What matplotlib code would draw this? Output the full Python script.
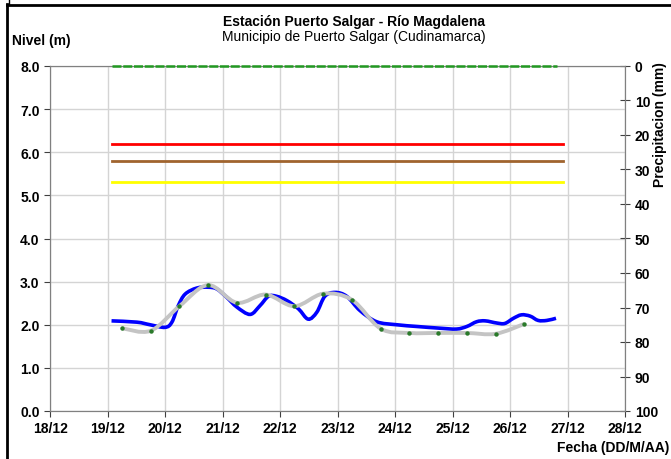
import numpy as np
import matplotlib
matplotlib.use("Agg")
import matplotlib.pyplot as plt
from matplotlib.path import Path
from matplotlib.patches import PathPatch
from matplotlib.lines import Line2D

plt.rcParams['font.family'] = ['Liberation Sans', 'DejaVu Sans']

# nivel observado (dia de diciembre, m)
nivel_dia = [19.07, 19.51, 19.74, 20.00, 20.12, 20.23, 20.35, 20.55, 20.75, 20.90,
             21.07, 21.25, 21.48, 21.65, 21.80, 21.94, 22.12, 22.32, 22.49, 22.64,
             22.78, 22.96, 23.16, 23.39, 23.68, 24.03, 24.38, 24.78, 25.07, 25.25,
             25.42, 25.57, 25.77, 25.91, 26.06, 26.20, 26.35, 26.49, 26.64, 26.80]
nivel_val = [2.09, 2.06, 2.00, 1.94, 2.06, 2.44, 2.71, 2.85, 2.87, 2.83,
             2.64, 2.41, 2.24, 2.44, 2.66, 2.66, 2.56, 2.37, 2.13, 2.29,
             2.66, 2.75, 2.66, 2.33, 2.07, 2.00, 1.96, 1.92, 1.90, 1.96,
             2.07, 2.09, 2.04, 2.03, 2.15, 2.23, 2.20, 2.10, 2.10, 2.15]

# lecturas de mira (6am / 6pm)
mira_dia = [19.25, 19.75, 20.25, 20.75, 21.25, 21.75, 22.25, 22.75,
            23.25, 23.75, 24.25, 24.75, 25.25, 25.75, 26.25]
mira_val = [1.92, 1.86, 2.43, 2.92, 2.51, 2.70, 2.43, 2.72,
            2.58, 1.91, 1.81, 1.81, 1.81, 1.79, 2.02]

# precipitacion
precip_dia = [19.08, 26.81]
precip_mm = [0, 0]

# umbrales
umbral_dia = [19.08, 26.93]
umbral_rojo = 6.2
umbral_naranja = 5.8
umbral_amarillo = 5.3

xticks = list(range(18, 29))
xlabels = ["%d/12" % d for d in xticks]


def smooth_path(xs, ys):
    # curva suavizada tipo excel (catmull-rom -> bezier)
    p = np.column_stack([xs, ys])
    pts = np.vstack([p[0], p, p[-1]])
    verts = [p[0]]
    codes = [Path.MOVETO]
    for i in range(1, len(pts) - 2):
        c1 = pts[i] + (pts[i + 1] - pts[i - 1]) / 6
        c2 = pts[i + 1] - (pts[i + 2] - pts[i]) / 6
        verts += [c1, c2, pts[i + 1]]
        codes += [Path.CURVE4] * 3
    return Path(verts, codes)


fig = plt.figure(figsize=(6.71, 4.60), dpi=100)
ax = fig.add_axes([50 / 671, 48 / 460, 575 / 671, 345 / 460])

ax.set_xlim(18, 28)
ax.set_ylim(0, 8)
ax.set_xticks(xticks)
ax.set_xticklabels(xlabels)
ax.set_yticks(np.arange(0, 8.1, 1))
ax.set_yticklabels(["%.1f" % v for v in np.arange(0, 8.1, 1)])
ax.grid(True, color='#d4d4d4', lw=1)
ax.set_axisbelow(True)
for s in ax.spines.values():
    s.set_color('#808080')
ax.tick_params(axis='both', length=4, color='#404040', labelsize=10)
for lab in ax.get_xticklabels() + ax.get_yticklabels():
    lab.set_fontweight('bold')

ax.plot(umbral_dia, [umbral_rojo] * 2, color='#ff0000', lw=2, zorder=3)
ax.plot(umbral_dia, [umbral_naranja] * 2, color='#a0642e', lw=2, zorder=3)
ax.plot(umbral_dia, [umbral_amarillo] * 2, color='#ffff00', lw=2, zorder=3)

ax.add_patch(PathPatch(smooth_path(nivel_dia, nivel_val), fill=False,
                       edgecolor='#0000ff', lw=2.6, zorder=4))
ax.add_patch(PathPatch(smooth_path(mira_dia, mira_val), fill=False,
                       edgecolor='#c4c4c4', lw=2.8, zorder=5))
ax.plot(mira_dia, mira_val, ls='none', marker='o', ms=2.2, color='#2a7a2a', zorder=6)

ax2 = ax.twinx()
ax2.set_ylim(100, 0)
ax2.set_yticks(range(0, 101, 10))
ax2.tick_params(axis='y', direction='inout', length=7, color='#404040', labelsize=10)
for lab in ax2.get_yticklabels():
    lab.set_fontweight('bold')
for s in ax2.spines.values():
    s.set_color('#808080')
ax2.plot(precip_dia, precip_mm, color='#229922', lw=1.8, dashes=(3.6, 0.7),
         clip_on=False, zorder=3)

fig.text(354 / 671, 1 - 22 / 460, 'Estación Puerto Salgar - Río Magdalena',
         ha='center', va='center', fontsize=10, fontweight='bold')
fig.text(354 / 671, 1 - 37 / 460, 'Municipio de Puerto Salgar (Cudinamarca)',
         ha='center', va='center', fontsize=10)
fig.text(12 / 671, 1 - 41 / 460, 'Nivel (m)', ha='left', va='center',
         fontsize=10, fontweight='bold')
fig.text(669 / 671, 1 - 448 / 460, 'Fecha (DD/M/AA)', ha='right', va='center',
         fontsize=10, fontweight='bold')
fig.text(660 / 671, 1 - 62 / 460, 'Precipitacion (mm)', ha='center', va='top',
         rotation=90, fontsize=10, fontweight='bold')

# marco
W, H = 671, 460
fig.add_artist(Line2D([7 / W, 7 / W], [0, 1 - 5 / H], color='black', lw=2, transform=fig.transFigure))
fig.add_artist(Line2D([7 / W, 1], [1 - 6 / H, 1 - 6 / H], color='black', lw=2, transform=fig.transFigure))
fig.add_artist(Line2D([9 / W, 9 / W], [1 - 5 / H, 1], color='black', lw=1, transform=fig.transFigure))

fig.savefig('out.png', dpi=100)
